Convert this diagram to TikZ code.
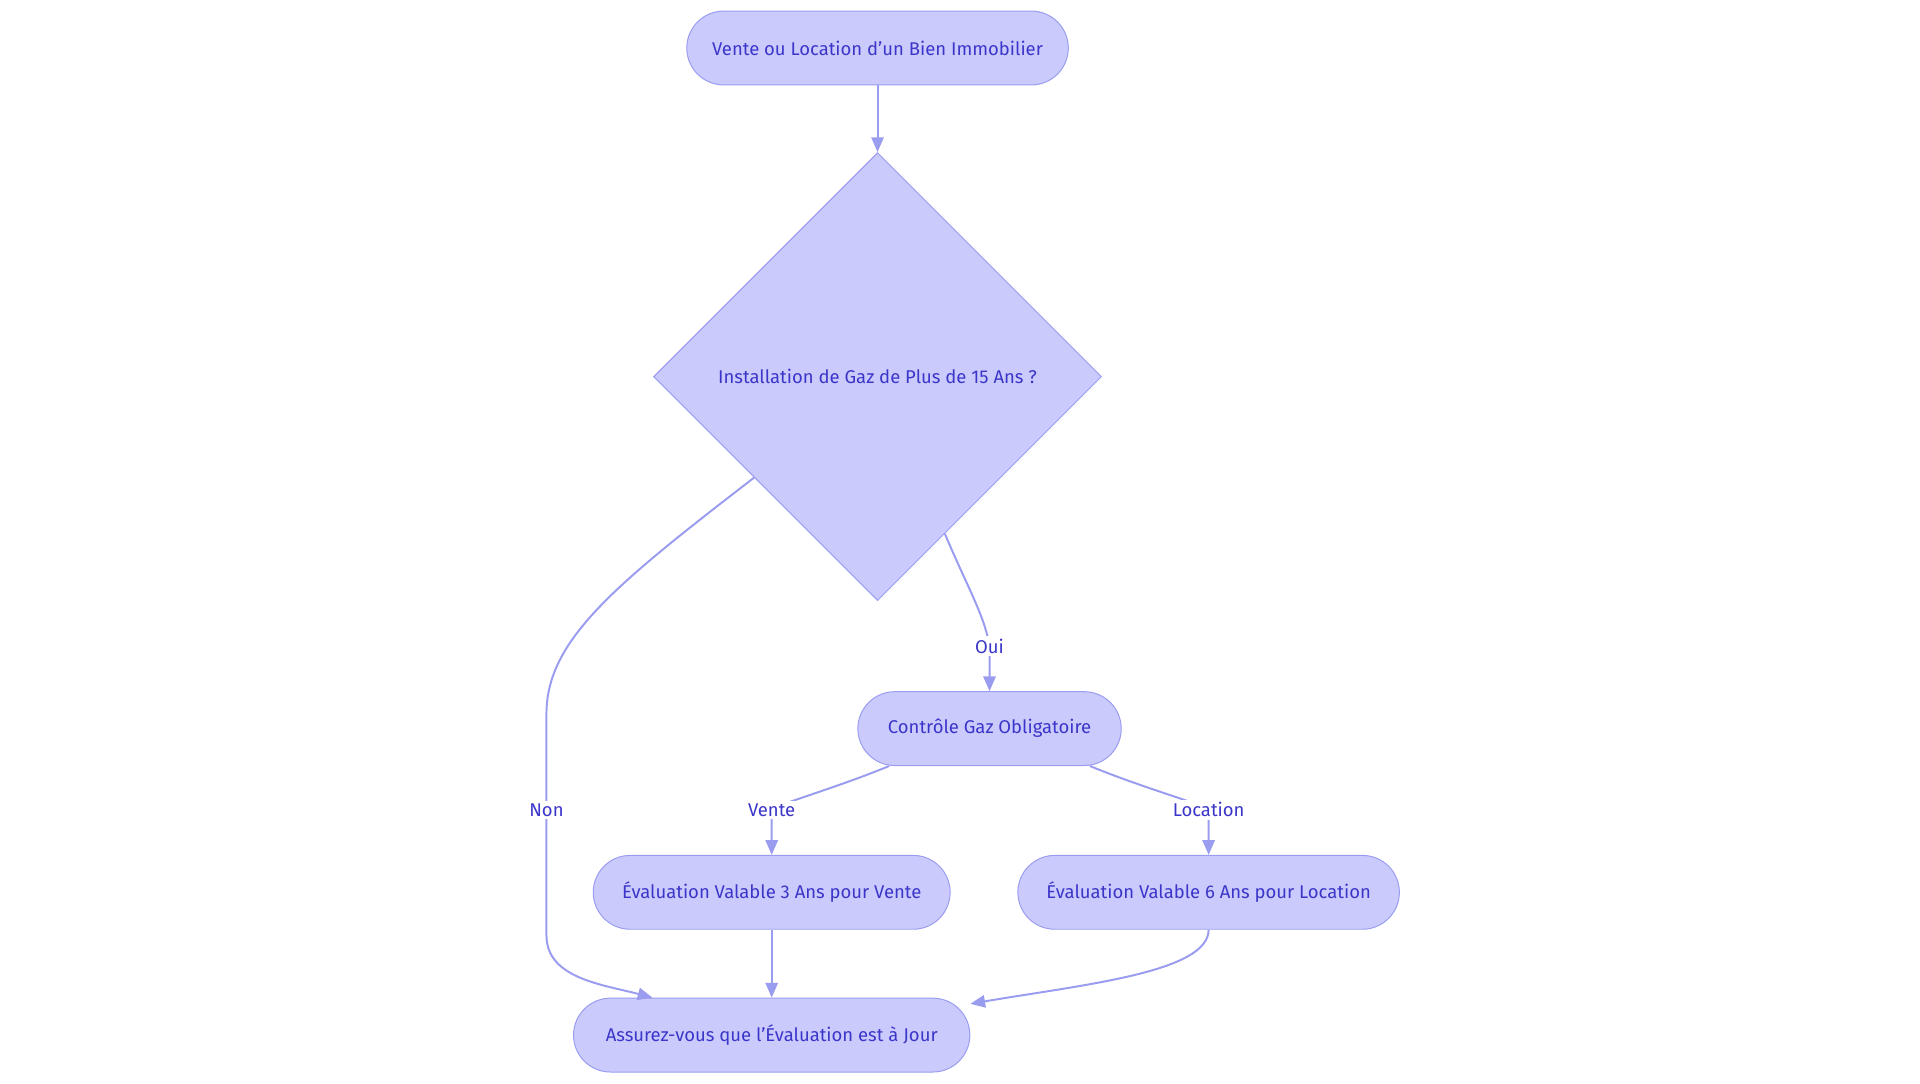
\documentclass[tikz,border=0pt]{standalone}
\usepackage{fontspec}
\setmainfont{Fira Sans}
\usetikzlibrary{shapes.geometric,arrows.meta,calc}
\definecolor{boxfill}{HTML}{CACBFC}
\definecolor{boxline}{HTML}{9A9CF0}
\definecolor{boxtext}{HTML}{3B35C9}
\tikzset{
  stage/.style={draw=boxline, fill=boxfill, text=boxtext, rounded corners=15pt,
    minimum height=30pt, inner xsep=10pt, font=\fontsize{7.5}{9}\selectfont},
  ask/.style={draw=boxline, fill=boxfill, text=boxtext, diamond, minimum width=182pt,
    minimum height=182pt, inner sep=0pt, font=\fontsize{7.5}{9}\selectfont},
  flow/.style={draw=boxline, line width=0.8pt, -{Triangle[length=6pt,width=5pt]}},
  tag/.style={fill=white, text=boxtext, inner sep=1pt, font=\fontsize{7.5}{9}\selectfont}
}
\begin{document}
\begin{tikzpicture}[x=0.5pt, y=-0.5pt]
  \useasboundingbox (0,0) rectangle (1560,880);
  % boxes
  \node[stage, minimum width=155pt] (bien) at (713,39) {Vente ou Location d'un Bien Immobilier};
  \node[ask] (gaz) at (713,306) {Installation de Gaz de Plus de 15 Ans ?};
  \node[stage, minimum width=107pt] (ctrl) at (804,592) {Contrôle Gaz Obligatoire};
  \node[stage, minimum width=145pt] (vente) at (627,725) {Évaluation Valable 3 Ans pour Vente};
  \node[stage, minimum width=155pt] (loc) at (982,725) {Évaluation Valable 6 Ans pour Location};
  \node[stage, minimum width=161pt] (jour) at (627,841) {Assurez-vous que l'Évaluation est à Jour};
  % links
  \draw[flow] (bien) -- (gaz.north);
  \draw[flow] ($(gaz.south)!0.3!(gaz.east)$) .. controls (785,475) and (800,500) .. (804,525)
    node[tag] {Oui} -- (ctrl.north);
  \draw[flow] ($(gaz.south)!0.55!(gaz.west)$) .. controls (500,475) and (444,520) .. (444,580)
    -- (444,658) node[tag] {Non} -- (444,760) .. controls (444,795) and (490,800) .. ($(jour.north west)!0.2!(jour.north east)$);
  \draw[flow] ($(ctrl.south west)!0.12!(ctrl.south east)$) .. controls (680,640) and (627,655) .. (627,658)
    node[tag] {Vente} -- (vente.north);
  \draw[flow] ($(ctrl.south west)!0.88!(ctrl.south east)$) .. controls (928,640) and (982,655) .. (982,658)
    node[tag] {Location} -- (loc.north);
  \draw[flow] (vente) -- (jour);
  \draw[flow] (loc.south) .. controls (982,790) and (880,800) .. ($(jour.north east)+(0,5)$);
\end{tikzpicture}
\end{document}
